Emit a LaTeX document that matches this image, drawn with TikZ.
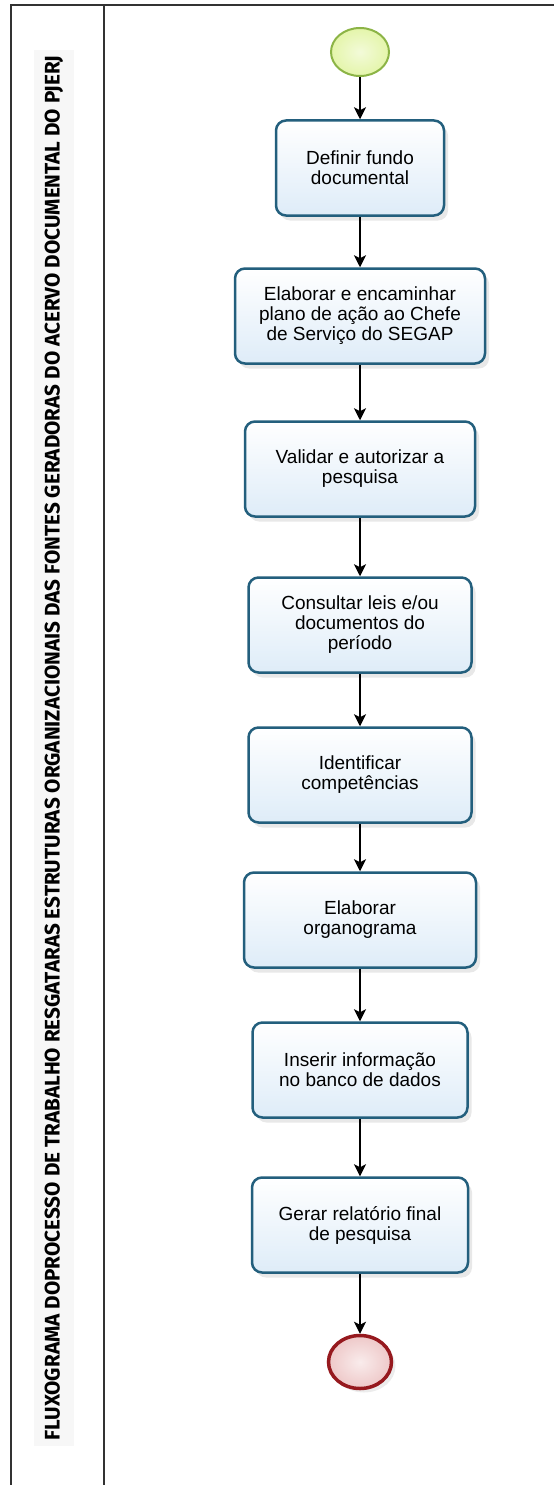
\documentclass[tikz,border=0pt]{standalone}
\usepackage{graphicx}
\usepackage{fontspec}
\setmainfont{Liberation Sans}
\newfontfamily\titlefont{Fira Sans}
\definecolor{taskblue}{RGB}{35, 95, 125}
\definecolor{taskfill}{RGB}{222, 236, 248}
\definecolor{startgreen}{RGB}{140, 180, 70}
\definecolor{startfill}{RGB}{228, 245, 170}
\definecolor{endred}{RGB}{150, 25, 30}
\definecolor{endfill}{RGB}{238, 200, 200}
\definecolor{frame1}{RGB}{50, 50, 50}
\usetikzlibrary{shapes.geometric, arrows.meta, shadows}

\begin{document}
\begin{tikzpicture}[x=1pt, y=-1pt,
  task/.style={draw=taskblue, line width=2.5pt, rounded corners=10pt, top color=white, bottom color=taskfill,
    minimum height=95pt, align=center, inner sep=4pt, font=\fontsize{19}{20}\selectfont,
    drop shadow={shadow xshift=4pt, shadow yshift=-5pt, opacity=0.18}},
  flow/.style={-{Stealth[length=12pt, width=12pt, inset=3pt]}, line width=1.2pt, black}]
  \useasboundingbox (0,0) rectangle (554,1485);

  % pool frame
  \draw[frame1, line width=2pt] (11,1485) -- (11,5) -- (554,5);
  \draw[frame1, line width=2pt] (104,5) -- (104,1485);
  \node[rotate=90, fill=black!3, inner xsep=5pt, inner ysep=11pt] (title) at (54,748) {%
    \resizebox{1385pt}{15pt}{\titlefont\bfseries FLUXOGRAMA DOPROCESSO DE TRABALHO RESGATARAS ESTRUTURAS ORGANIZACIONAIS DAS FONTES GERADORAS DO ACERVO DOCUMENTAL DO PJERJ}};

  % events
  \node[ellipse, draw=startgreen, line width=2pt, inner color=startfill!45, outer color=startfill,
    minimum width=58pt, minimum height=48pt] (start) at (360,52) {};
  \node[ellipse, draw=endred, line width=3.5pt, inner color=endfill!35, outer color=endfill,
    minimum width=63pt, minimum height=53pt,
    drop shadow={shadow xshift=4pt, shadow yshift=-4pt, opacity=0.15}] (stop) at (360,1362) {};

  % tasks
  \node[task, minimum width=168pt] (t1) at (360,168) {Definir fundo\\documental};
  \node[task, minimum width=250pt] (t2) at (360,316) {Elaborar e encaminhar\\plano de ação ao Chefe\\de Serviço do SEGAP};
  \node[task, minimum width=230pt] (t3) at (360,469) {Validar e autorizar a\\pesquisa};
  \node[task, minimum width=223pt] (t4) at (360,625) {Consultar leis e/ou\\documentos do\\período};
  \node[task, minimum width=223pt] (t5) at (360,775) {Identificar\\competências};
  \node[task, minimum width=232pt] (t6) at (360,920) {Elaborar\\organograma};
  \node[task, minimum width=215pt] (t7) at (360,1070) {Inserir informação\\no banco de dados};
  \node[task, minimum width=216pt] (t8) at (360,1225) {Gerar relatório final\\de pesquisa};

  % sequence flow
  \draw[flow] (start) -- (t1);
  \draw[flow] (t1) -- (t2);
  \draw[flow] (t2) -- (t3);
  \draw[flow] (t3) -- (t4);
  \draw[flow] (t4) -- (t5);
  \draw[flow] (t5) -- (t6);
  \draw[flow] (t6) -- (t7);
  \draw[flow] (t7) -- (t8);
  \draw[flow] (t8) -- (stop);
\end{tikzpicture}
\end{document}
